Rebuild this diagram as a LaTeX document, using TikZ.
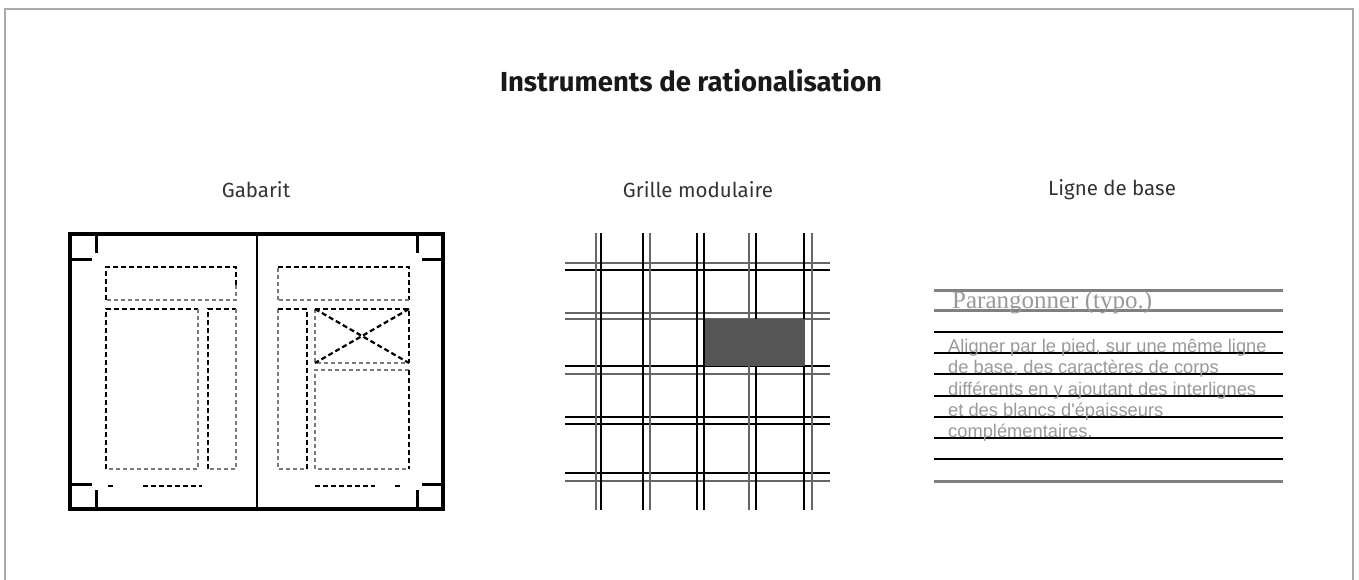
\documentclass[tikz,border=0pt]{standalone}
\usepackage{fontspec}
\setmainfont{Fira Sans}
\newfontfamily\serifparan{Liberation Serif}
\newfontfamily\sansbody{Liberation Sans}
\definecolor{framegray}{HTML}{AAAAAA}
\definecolor{softgray}{HTML}{7A7A7A}
\definecolor{txtgray}{HTML}{999999}
\definecolor{blockgray}{HTML}{555555}
\tikzset{
  frameline/.style={draw=framegray, line width=2},
  pageline/.style={draw=black, line width=3.5},
  cropline/.style={draw=black, line width=3},
  dk/.style={draw=black, line width=2.2, dash pattern=on 5 off 3},
  lt/.style={draw=softgray, line width=2.2, dash pattern=on 4 off 3},
  gridblack/.style={draw=black, line width=2.6},
  gridgray/.style={draw=black!60, line width=2.6},
  baseblack/.style={draw=black, line width=2.5},
  basegray/.style={draw=black!50, line width=3},
  titletext/.style={font=\fontsize{27.5}{32}\selectfont\bfseries, text=black!90},
  subtext/.style={font=\fontsize{20.5}{24}\selectfont, text=black!80},
}
\begin{document}
\begin{tikzpicture}[x=1pt,y=-1pt]
\useasboundingbox (0,0) rectangle (1359,579);
% outer frame
\draw[frameline] (5,580) -- (5,9) -- (1353,9) -- (1353,580);

% titles
\node[titletext] (title) at (691,81) {Instruments de rationalisation};
\node[subtext] (tgab) at (256,190) {Gabarit};
\node[subtext] (tgrid) at (698,190) {Grille modulaire};
\node[subtext] (tbase) at (1112,190) {Ligne de base};

% ---------- Gabarit ----------
\draw[pageline] (70,234) rectangle (443,509);
\draw[draw=black, line width=2.5] (257,234) -- (257,509);
% crop marks
\draw[cropline] (96,234) -- (96,253);
\draw[cropline] (70,259) -- (92,259);
\draw[cropline] (70,484) -- (92,484);
\draw[cropline] (96,490) -- (96,509);
\draw[cropline] (417,234) -- (417,253);
\draw[cropline] (422,259) -- (443,259);
\draw[cropline] (422,484) -- (443,484);
\draw[cropline] (417,490) -- (417,509);
% left page boxes
\draw[dk] (106,300) -- (106,267) -- (236,267) -- (236,285);
\draw[lt] (236,285) -- (236,300) -- (106,300);
\draw[dk] (106,469) -- (106,309) -- (198,309);
\draw[lt] (198,309) -- (198,469) -- (106,469);
\draw[dk] (208,469) -- (208,309) -- (236,309);
\draw[lt] (236,309) -- (236,469) -- (208,469);
\draw[dk] (108,486) -- (113,486);
\draw[dk] (143,486) -- (202,486);
% right page boxes
\draw[lt] (278,300) -- (278,267);
\draw[dk] (278,267) -- (409,267) -- (409,300);
\draw[lt] (409,300) -- (278,300);
\draw[lt] (278,309) -- (278,469) -- (307,469);
\draw[dk] (278,309) -- (307,309) -- (307,469);
\draw[lt] (315,309) -- (315,363) -- (409,363);
\draw[dk] (315,309) -- (409,309) -- (409,363);
\draw[dk] (315,309) -- (409,363);
\draw[dk] (409,309) -- (315,363);
\draw[lt] (409,370) -- (315,370) -- (315,469) -- (409,469);
\draw[dk] (409,370) -- (409,469);
\draw[dk] (315,486) -- (375,486);
\draw[dk] (395,486) -- (403,486);

% ---------- Grille modulaire ----------
% horizontal pairs
\draw[gridgray]  (565,263) -- (830,263);
\draw[gridblack] (565,270) -- (830,270);
\draw[gridgray]  (565,313) -- (830,313);
\draw[gridgray]  (565,319) -- (830,319);
\draw[gridblack] (565,366) -- (830,366);
\draw[gridgray]  (565,374) -- (830,374);
\draw[gridblack] (565,417) -- (830,417);
\draw[gridblack] (565,424) -- (830,424);
\draw[gridblack] (565,473) -- (830,473);
\draw[gridgray]  (565,481) -- (830,481);
% vertical pairs
\draw[gridgray]  (596,233) -- (596,510);
\draw[gridblack] (601,233) -- (601,510);
\draw[gridblack] (643,233) -- (643,510);
\draw[gridgray]  (650,233) -- (650,510);
\draw[gridblack] (697,233) -- (697,510);
\draw[gridblack] (704,233) -- (704,510);
\draw[gridgray]  (749,233) -- (749,510);
\draw[gridblack] (756,233) -- (756,510);
\draw[gridblack] (804,233) -- (804,510);
\draw[gridgray]  (812,233) -- (812,510);
% highlighted module
\fill[blockgray] (705,319) rectangle (805,366);

% ---------- Ligne de base ----------
\draw[basegray]  (934,290) -- (1283,290);
\draw[basegray]  (934,310) -- (1283,310);
\draw[baseblack] (934,332) -- (1283,332);
\draw[baseblack] (934,353) -- (1283,353);
\draw[baseblack] (934,374) -- (1283,374);
\draw[baseblack] (934,396) -- (1283,396);
\draw[baseblack] (934,417) -- (1283,417);
\draw[baseblack] (934,438) -- (1283,438);
\draw[baseblack] (934,459) -- (1283,459);
\draw[basegray]  (934,481) -- (1283,481);
\node[anchor=base west, inner sep=0, text=txtgray, font=\serifparan\fontsize{25}{28}\selectfont] (paran) at (952,308) {Parangonner (typo.)};
\begin{scope}[every node/.style={anchor=base west, inner sep=0, text=txtgray, font=\sansbody\fontsize{18.3}{21}\selectfont}]
\node (b1) at (948,352) {Aligner par le pied, sur une même ligne};
\node (b2) at (948,373) {de base, des caractères de corps};
\node (b3) at (948,395) {différents en y ajoutant des interlignes};
\node (b4) at (948,416) {et des blancs d'épaisseurs};
\node (b5) at (948,437) {complémentaires.};
\end{scope}
\end{tikzpicture}
\end{document}
